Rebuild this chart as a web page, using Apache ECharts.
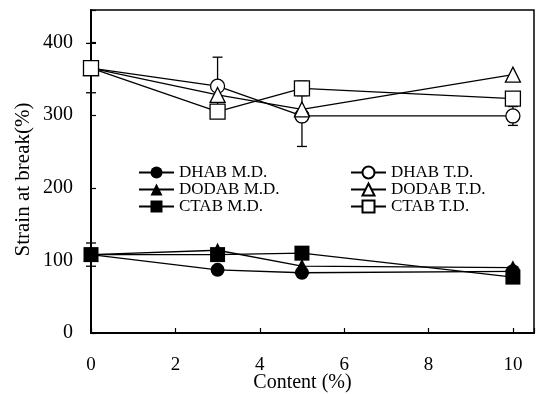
<!DOCTYPE html>
<html>
<head>
<meta charset="utf-8">
<script src="https://cdn.jsdelivr.net/npm/echarts@6/dist/echarts.min.js"></script>
<style>
  html, body { margin: 0; padding: 0; background: #fff; }
  #chart { width: 537px; height: 394px; }
</style>
</head>
<body>
<div id="chart"></div>
<script>
// Surfactant content (%) on the x axis
const contents = [0, 3, 5, 10];

// Strain at break (%), machine direction
const dhabMD  = [108, 87, 83, 85];
const dodabMD = [108, 114, 92, 90];
const ctabMD  = [108, 108, 110, 77];

// Strain at break (%), transverse direction
const dhabTD  = [365, 340, 299, 299];
const dodabTD = [365, 328, 308, 356];
const ctabTD  = [365, 305, 337, 323];

// Error bar half-widths (null = no bar drawn)
const ctabMDErr = [16, null, null, null];
const ctabTDErr = [34, null, 10, null];
const dhabTDErr = [null, 40, 42, 13];

const xTicks = [0, 2, 4, 6, 8, 10];
const yTicks = [0, 100, 200, 300, 400];

const FONT = "'Liberation Serif', 'Times New Roman', serif";

function pairs(vals) {
  return contents.map((c, i) => [c, vals[i]]);
}
function errPairs(vals, errs) {
  const out = [];
  contents.forEach((c, i) => { if (errs[i] != null) out.push([c, vals[i], errs[i]]); });
  return out;
}

function lineSeries(name, vals, symbol, filled, size) {
  return {
    name: name,
    type: 'line',
    data: pairs(vals),
    symbol: symbol,
    symbolSize: size,
    showAllSymbol: true,
    clip: false,
    z: filled ? 4 : 5,
    lineStyle: { color: '#000', width: 1.3 },
    itemStyle: {
      color: filled ? '#000' : '#fff',
      borderColor: '#000',
      borderWidth: filled ? 0 : 1.3
    },
    emphasis: { disabled: true }
  };
}

function errorSeries(data) {
  return {
    type: 'custom',
    data: data,
    z: 2,
    silent: true,
    renderItem: function (params, api) {
      const x = api.value(0), y = api.value(1), e = api.value(2);
      const hi = api.coord([x, y + e]);
      const lo = api.coord([x, y - e]);
      const cap = 5;
      const style = { stroke: '#000', lineWidth: 1.3 };
      return {
        type: 'group',
        children: [
          { type: 'line', shape: { x1: hi[0], y1: hi[1], x2: lo[0], y2: lo[1] }, style: style },
          { type: 'line', shape: { x1: hi[0] - cap, y1: hi[1], x2: hi[0] + cap, y2: hi[1] }, style: style },
          { type: 'line', shape: { x1: lo[0] - cap, y1: lo[1], x2: lo[0] + cap, y2: lo[1] }, style: style }
        ]
      };
    }
  };
}

const legendText = { fontFamily: FONT, fontSize: 17, lineHeight: 17, color: '#000' };

const chart = echarts.init(document.getElementById('chart'));
chart.setOption({
  animation: false,
  backgroundColor: '#fff',
  grid: {
    left: 91, right: 3, top: 10, bottom: 61,
    containLabel: false, outerBoundsMode: 'none',
    show: true, borderColor: '#000', borderWidth: 1.5, backgroundColor: 'transparent'
  },
  legend: [
    {
      data: ['DHAB M.D.', 'DODAB M.D.', 'CTAB M.D.'],
      orient: 'vertical', left: 138, top: 164, padding: 0,
      itemWidth: 35, itemHeight: 15, itemGap: 0,
      textStyle: legendText, selectedMode: false
    },
    {
      data: ['DHAB T.D.', 'DODAB T.D.', 'CTAB T.D.'],
      orient: 'vertical', left: 350, top: 164, padding: 0,
      itemWidth: 35, itemHeight: 15, itemGap: 0,
      textStyle: legendText, selectedMode: false
    }
  ],
  xAxis: {
    type: 'value',
    min: 0, max: 10.5, interval: 2,
    name: 'Content (%)',
    nameLocation: 'middle',
    nameGap: 40,
    nameMoveOverlap: false,
    nameTextStyle: { fontFamily: FONT, fontSize: 20, color: '#000', padding: [0, 20, 0, 0] },
    axisLine: { lineStyle: { color: '#000', width: 2 } },
    axisTick: { inside: true, length: 5, lineStyle: { color: '#000', width: 1.2 } },
    axisLabel: {
      fontFamily: FONT, fontSize: 19, color: '#000', margin: 23,
      formatter: v => (xTicks.indexOf(v) >= 0 ? String(v) : '')
    },
    splitLine: { show: false }
  },
  yAxis: {
    type: 'value',
    min: 0, max: 445, interval: 100,
    name: 'Strain at break(%)',
    nameLocation: 'middle',
    nameGap: 57,
    nameMoveOverlap: false,
    nameTextStyle: { fontFamily: FONT, fontSize: 21, color: '#000', padding: [0, 16, 0, 0] },
    axisLine: { lineStyle: { color: '#000', width: 2 } },
    axisTick: { inside: true, length: 5, lineStyle: { color: '#000', width: 1.2 } },
    axisLabel: {
      fontFamily: FONT, fontSize: 20, color: '#000', margin: 18,
      formatter: v => (yTicks.indexOf(v) >= 0 ? String(v) : '')
    },
    splitLine: { show: false }
  },
  series: [
    errorSeries(errPairs(ctabMD, ctabMDErr)),
    errorSeries(errPairs(ctabTD, ctabTDErr)),
    errorSeries(errPairs(dhabTD, dhabTDErr)),
    lineSeries('DHAB M.D.', dhabMD, 'circle', true, 14),
    lineSeries('DODAB M.D.', dodabMD, 'triangle', true, 15),
    lineSeries('CTAB M.D.', ctabMD, 'rect', true, 15),
    lineSeries('DHAB T.D.', dhabTD, 'circle', false, 14),
    lineSeries('DODAB T.D.', dodabTD, 'triangle', false, 15),
    lineSeries('CTAB T.D.', ctabTD, 'rect', false, 15)
  ]
});
</script>
</body>
</html>
